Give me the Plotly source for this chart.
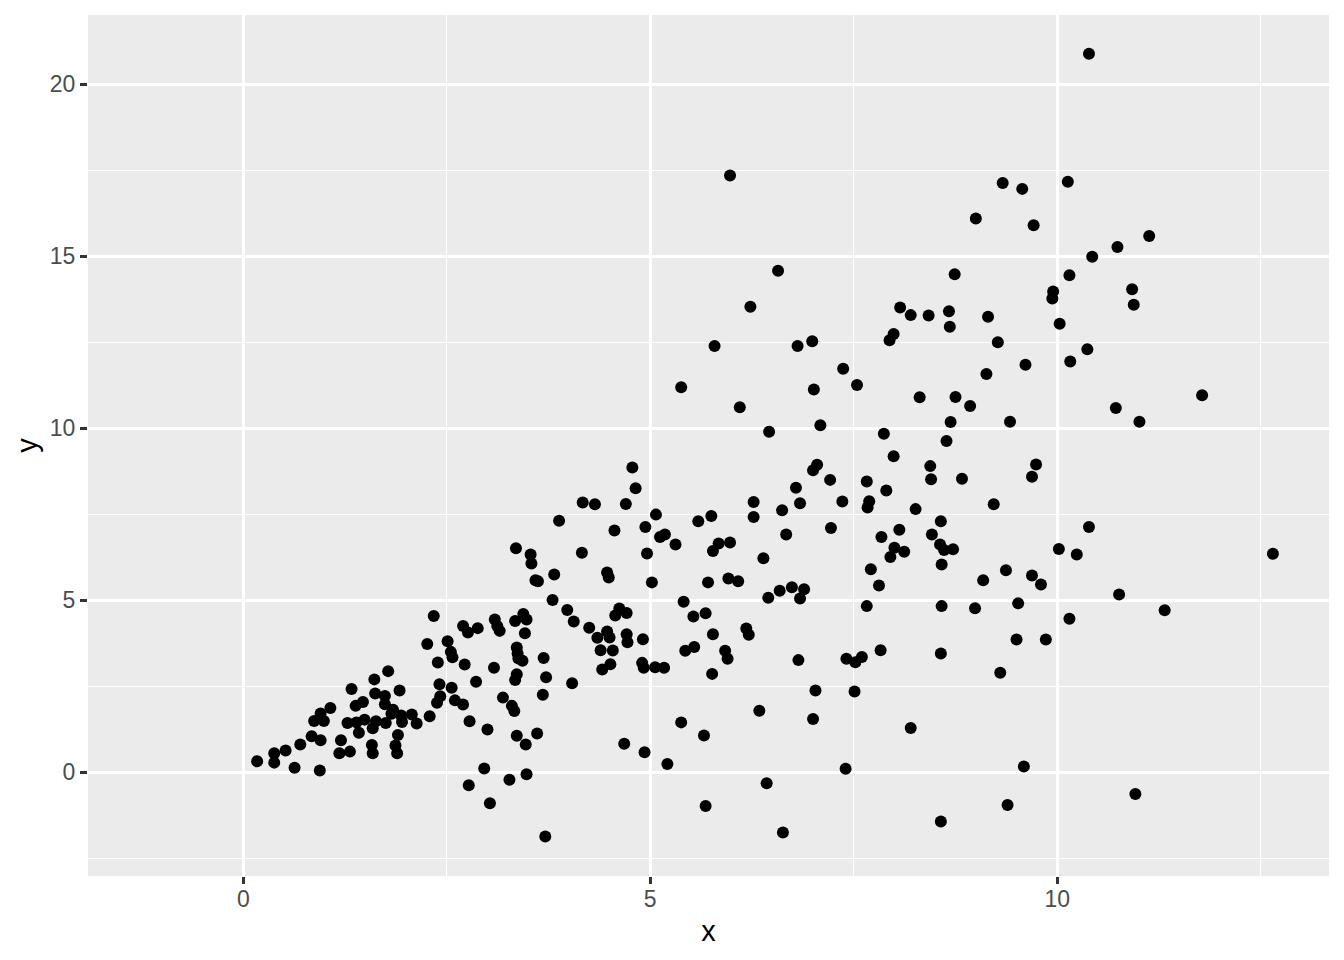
import plotly.graph_objects as go

# Lower-left cluster
x_a = [0.17, 0.38, 0.38, 0.52, 0.63, 0.70, 0.84, 0.95, 0.94, 0.87,
       0.95, 0.99, 1.07, 1.20, 1.18, 1.31, 1.28, 1.33, 1.38, 1.47,
       1.42, 1.39, 1.49, 1.58, 1.59, 1.59, 1.63, 1.61, 1.62, 1.78,
       1.74, 1.74, 1.75, 1.84, 1.82, 1.92, 1.94, 1.95, 1.90, 1.87,
       1.89, 2.07, 2.13, 2.29, 2.26, 2.34, 2.39, 2.41, 2.42, 2.38,
       2.51, 2.55, 2.57, 2.56, 2.60, 2.70, 2.78, 3.00, 2.72, 2.70,
       2.76, 2.88, 2.86, 3.08, 3.09, 3.15, 3.12, 3.19, 3.30, 3.33,
       3.36, 3.47, 3.34, 3.44, 3.48, 3.46, 3.36, 3.37, 3.38, 3.43,
       3.36, 3.34, 2.96, 2.77, 3.03, 3.27, 3.48, 3.59]
y_a = [0.32, 0.55, 0.28, 0.63, 0.13, 0.81, 1.05, 0.93, 0.05, 1.49,
       1.71, 1.49, 1.87, 0.93, 0.55, 0.60, 1.43, 2.42, 1.93, 2.04,
       1.15, 1.45, 1.53, 0.79, 0.55, 1.28, 1.48, 2.70, 2.29, 2.94,
       2.22, 1.98, 1.43, 1.82, 1.70, 2.38, 1.65, 1.46, 1.08, 0.78,
       0.55, 1.68, 1.42, 1.63, 3.73, 4.54, 3.19, 2.56, 2.21, 2.02,
       3.81, 3.50, 3.34, 2.46, 2.09, 1.97, 1.48, 1.24, 3.13, 4.25,
       4.06, 4.19, 2.63, 3.04, 4.44, 4.11, 4.25, 2.17, 1.93, 1.78,
       1.06, 0.81, 4.40, 4.60, 4.44, 4.04, 3.63, 3.45, 3.31, 3.24,
       2.85, 2.68, 0.11, -0.38, -0.90, -0.22, -0.06, 5.58]

# Middle band
x_b = [4.78, 4.82, 4.17, 4.32, 4.70, 5.07, 3.88, 4.56, 4.94, 5.12,
       5.18, 5.31, 5.59, 5.75, 5.84, 5.77, 3.35, 3.53, 3.54, 3.82,
       4.16, 4.96, 4.47, 4.49, 5.02, 5.71, 3.80, 3.98, 4.06, 4.25,
       4.35, 4.47, 4.50, 4.39, 4.54, 4.41, 4.51, 4.62, 4.57, 4.71,
       4.71, 4.72, 4.91, 4.90, 4.92, 5.06, 5.17, 5.41, 5.53, 5.68,
       5.77, 5.43, 5.54, 5.76, 5.38, 5.66, 4.68, 4.93, 5.21, 5.68,
       4.04, 3.72, 3.69, 3.68, 3.61, 3.71, 3.62]
y_b = [8.86, 8.26, 7.84, 7.79, 7.80, 7.49, 7.31, 7.03, 7.13, 6.84,
       6.91, 6.62, 7.30, 7.45, 6.65, 6.43, 6.51, 6.33, 6.07, 5.75,
       6.38, 6.36, 5.81, 5.66, 5.52, 5.52, 5.01, 4.72, 4.38, 4.20,
       3.91, 4.09, 3.92, 3.55, 3.54, 2.99, 3.14, 4.76, 4.56, 4.63,
       4.01, 3.78, 3.87, 3.18, 3.04, 3.05, 3.04, 4.96, 4.53, 4.62,
       4.01, 3.53, 3.64, 2.86, 1.45, 1.07, 0.83, 0.58, 0.24, -0.98,
       2.59, 2.76, 3.32, 2.25, 1.13, -1.87, 5.55]

# Right middle band
x_c = [6.46, 7.87, 8.64, 7.99, 8.44, 8.45, 8.83, 9.22, 7.05, 7.00,
       7.21, 6.79, 6.27, 6.27, 6.62, 6.84, 7.36, 7.66, 7.90, 7.69,
       7.67, 8.26, 8.57, 6.67, 7.22, 7.84, 8.06, 8.46, 8.56, 8.61,
       8.72, 8.00, 8.12, 7.95, 8.58, 9.37, 9.09, 5.98, 6.39, 5.96,
       6.08, 6.45, 6.59, 6.74, 6.89, 6.84, 7.71, 7.81, 7.66, 8.58,
       8.99, 6.18, 6.21, 5.92, 5.95, 6.82, 7.41, 7.52, 7.60, 7.83,
       8.57, 9.30, 7.03, 7.51, 6.34, 7.00, 8.20, 7.40, 6.43, 6.63,
       8.57, 9.39]
y_c = [9.90, 9.84, 9.63, 9.19, 8.90, 8.52, 8.53, 7.79, 8.94, 8.78,
       8.50, 8.27, 7.86, 7.42, 7.62, 7.82, 7.87, 8.45, 8.19, 7.88,
       7.70, 7.65, 7.30, 6.91, 7.10, 6.84, 7.05, 6.91, 6.62, 6.46,
       6.48, 6.53, 6.41, 6.26, 6.04, 5.87, 5.58, 6.68, 6.22, 5.63,
       5.55, 5.07, 5.28, 5.38, 5.32, 5.05, 5.90, 5.43, 4.83, 4.83,
       4.77, 4.18, 4.00, 3.53, 3.30, 3.26, 3.30, 3.20, 3.35, 3.55,
       3.45, 2.89, 2.38, 2.35, 1.79, 1.55, 1.29, 0.10, -0.32, -1.75,
       -1.43, -0.95]

# Far right, lower part
x_d = [9.74, 9.69, 10.39, 10.02, 10.24, 12.65, 9.69, 9.80, 10.76, 9.52,
       10.15, 11.32, 9.50, 9.86, 9.59, 10.96]
y_d = [8.95, 8.59, 7.13, 6.49, 6.33, 6.35, 5.72, 5.46, 5.17, 4.91,
       4.46, 4.71, 3.86, 3.86, 0.17, -0.63]

# Upper middle
x_e = [5.98, 6.57, 6.23, 5.79, 6.81, 6.99, 7.37, 7.54, 5.38, 7.01,
       6.10, 7.09]
y_e = [17.35, 14.58, 13.53, 12.39, 12.39, 12.53, 11.73, 11.26, 11.19, 11.13,
       10.61, 10.09]

# Upper right
x_f = [10.39, 9.33, 9.57, 10.13, 9.00, 9.71, 11.13, 10.74, 10.43, 8.74,
       10.15, 9.95, 9.94, 10.92, 10.94, 8.07, 8.20, 8.42, 8.67, 8.68,
       9.15, 10.03, 7.99, 7.94, 9.27, 10.37, 10.16, 9.61, 9.13, 8.31,
       8.75, 8.93, 8.69, 9.42, 10.72, 11.01, 11.78]
y_f = [20.89, 17.13, 16.96, 17.17, 16.10, 15.90, 15.59, 15.27, 14.99, 14.48,
       14.45, 13.98, 13.77, 14.04, 13.59, 13.51, 13.29, 13.28, 13.40, 12.95,
       13.24, 13.04, 12.74, 12.56, 12.50, 12.30, 11.94, 11.85, 11.58, 10.90,
       10.91, 10.65, 10.18, 10.19, 10.59, 10.19, 10.96]

x_vals = x_a + x_b + x_c + x_d + x_e + x_f
y_vals = y_a + y_b + y_c + y_d + y_e + y_f

x_ticks = [0, 5, 10]
y_ticks = [0, 5, 10, 15, 20]

fig = go.Figure(
    go.Scatter(
        x=x_vals, y=y_vals, mode="markers",
        marker=dict(color="black", size=12, line=dict(width=0)),
        hoverinfo="x+y",
    )
)

axis_common = dict(
    showgrid=True, gridcolor="white", gridwidth=2.7,
    zeroline=False, showline=False,
    ticks="outside", ticklen=7, tickwidth=2.5, tickcolor="#333333",
    tickfont=dict(family="Liberation Sans, Arial, sans-serif", size=23, color="#4D4D4D"),
    title_font=dict(family="Liberation Sans, Arial, sans-serif", size=29, color="black"),
)

fig.update_layout(
    width=1344, height=960,
    paper_bgcolor="white", plot_bgcolor="#EBEBEB",
    margin=dict(l=80, r=23, t=7, b=92),
    showlegend=False,
    xaxis=dict(
        range=[-1.908, 13.339], tickvals=x_ticks,
        minor=dict(dtick=2.5, tick0=0, showgrid=True, gridcolor="white", gridwidth=1.35),
        title=dict(text="x", standoff=10),
        ticklabelstandoff=-5,
        **axis_common,
    ),
    yaxis=dict(
        range=[-3.016, 22.015], tickvals=y_ticks,
        minor=dict(dtick=2.5, tick0=0, showgrid=True, gridcolor="white", gridwidth=1.35),
        title=dict(text="y", standoff=3),
        **axis_common,
    ),
)

fig.write_html("out.html")
